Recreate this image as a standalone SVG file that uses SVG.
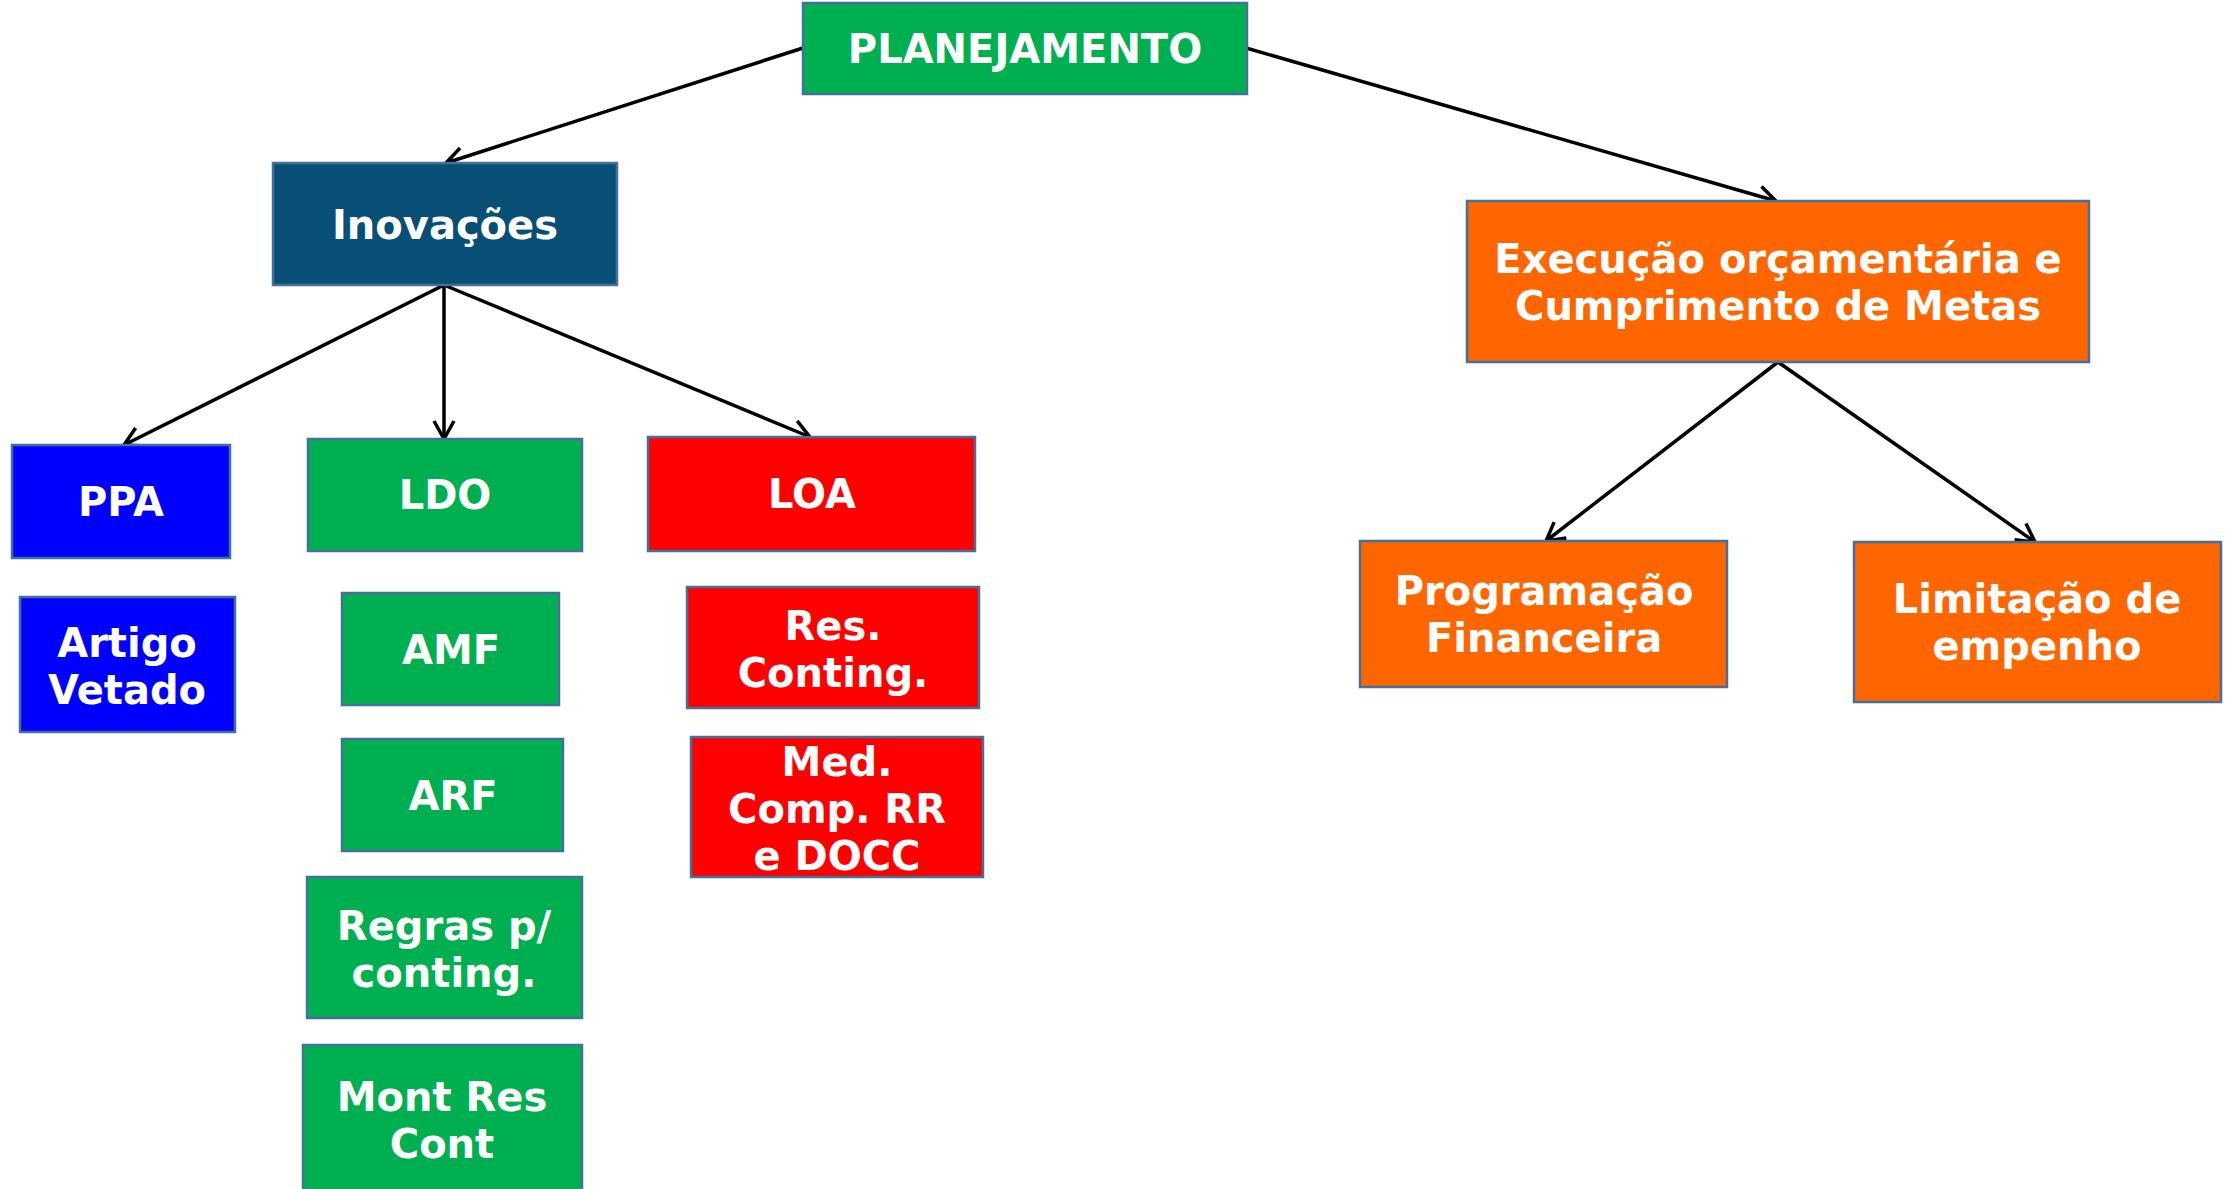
<svg xmlns="http://www.w3.org/2000/svg" width="2236" height="1189" viewBox="0 0 2236 1189">
<style>
.box{stroke:#41719C;stroke-width:2.5}
.g{fill:#00B050}.db{fill:#074F75}.b{fill:#0000FF}.r{fill:#FF0000}.o{fill:#FF6600}
text{font-family:"DejaVu Sans",Verdana,sans-serif;font-weight:bold;font-size:40px;fill:#FFFFFF;text-anchor:middle;dominant-baseline:central}
.c line{stroke:#000;stroke-width:3.5;fill:none;marker-end:url(#arr)}
</style>
<defs>
<marker id="arr" markerUnits="userSpaceOnUse" markerWidth="28" markerHeight="28" viewBox="0 0 28 28" refX="24" refY="14" orient="auto">
<path d="M6,4 L24,14 L6,24" fill="none" stroke="#000" stroke-width="3.5"/>
</marker>
</defs>
<rect width="2236" height="1189" fill="#FFFFFF"/>
<g class="c" id="connectors">
<line x1="803" y1="48" x2="446" y2="163"/>
<line x1="1246" y1="48" x2="1776" y2="201"/>
<line x1="444" y1="285" x2="124" y2="445"/>
<line x1="444" y1="285" x2="444" y2="439"/>
<line x1="444" y1="285" x2="810" y2="437"/>
<line x1="1778" y1="362" x2="1546" y2="541"/>
<line x1="1778" y1="362" x2="2035" y2="542"/>
</g>
<g id="planejamento"><rect class="box g" x="803" y="3" width="444" height="91"/><text x="1025" y="49">PLANEJAMENTO</text></g>
<g id="inovacoes"><rect class="box db" x="273" y="163" width="344" height="122"/><text x="445" y="225">Inovações</text></g>
<g id="ppa"><rect class="box b" x="12" y="445" width="218" height="113"/><text x="121" y="502">PPA</text></g>
<g id="ldo"><rect class="box g" x="308" y="439" width="274" height="112"/><text x="445" y="495">LDO</text></g>
<g id="loa"><rect class="box r" x="648" y="437" width="327" height="114"/><text x="812" y="494">LOA</text></g>
<g id="artigo"><rect class="box b" x="20" y="597" width="215" height="135"/><text x="127" y="643">Artigo</text><text x="127" y="690">Vetado</text></g>
<g id="amf"><rect class="box g" x="342" y="593" width="217" height="112"/><text x="451" y="650">AMF</text></g>
<g id="arf"><rect class="box g" x="342" y="739" width="221" height="112"/><text x="453" y="796">ARF</text></g>
<g id="regras"><rect class="box g" x="307" y="877" width="275" height="141"/><text x="444" y="926">Regras p/</text><text x="444" y="973">conting.</text></g>
<g id="montres"><rect class="box g" x="303" y="1045" width="279" height="160"/><text x="442" y="1097">Mont Res</text><text x="442" y="1144">Cont</text></g>
<g id="resconting"><rect class="box r" x="687" y="587" width="292" height="121"/><text x="833" y="626">Res.</text><text x="833" y="673">Conting.</text></g>
<g id="med"><rect class="box r" x="691" y="737" width="292" height="140"/><text x="837" y="762">Med.</text><text x="837" y="809">Comp. RR</text><text x="837" y="856">e DOCC</text></g>
<g id="execucao"><rect class="box o" x="1467" y="201" width="622" height="161"/><text x="1778" y="259">Execução orçamentária e</text><text x="1778" y="306">Cumprimento de Metas</text></g>
<g id="programacao"><rect class="box o" x="1360" y="541" width="367" height="146"/><text x="1544" y="591">Programação</text><text x="1544" y="638">Financeira</text></g>
<g id="limitacao"><rect class="box o" x="1854" y="542" width="367" height="160"/><text x="2037" y="599">Limitação de</text><text x="2037" y="646">empenho</text></g>
</svg>
